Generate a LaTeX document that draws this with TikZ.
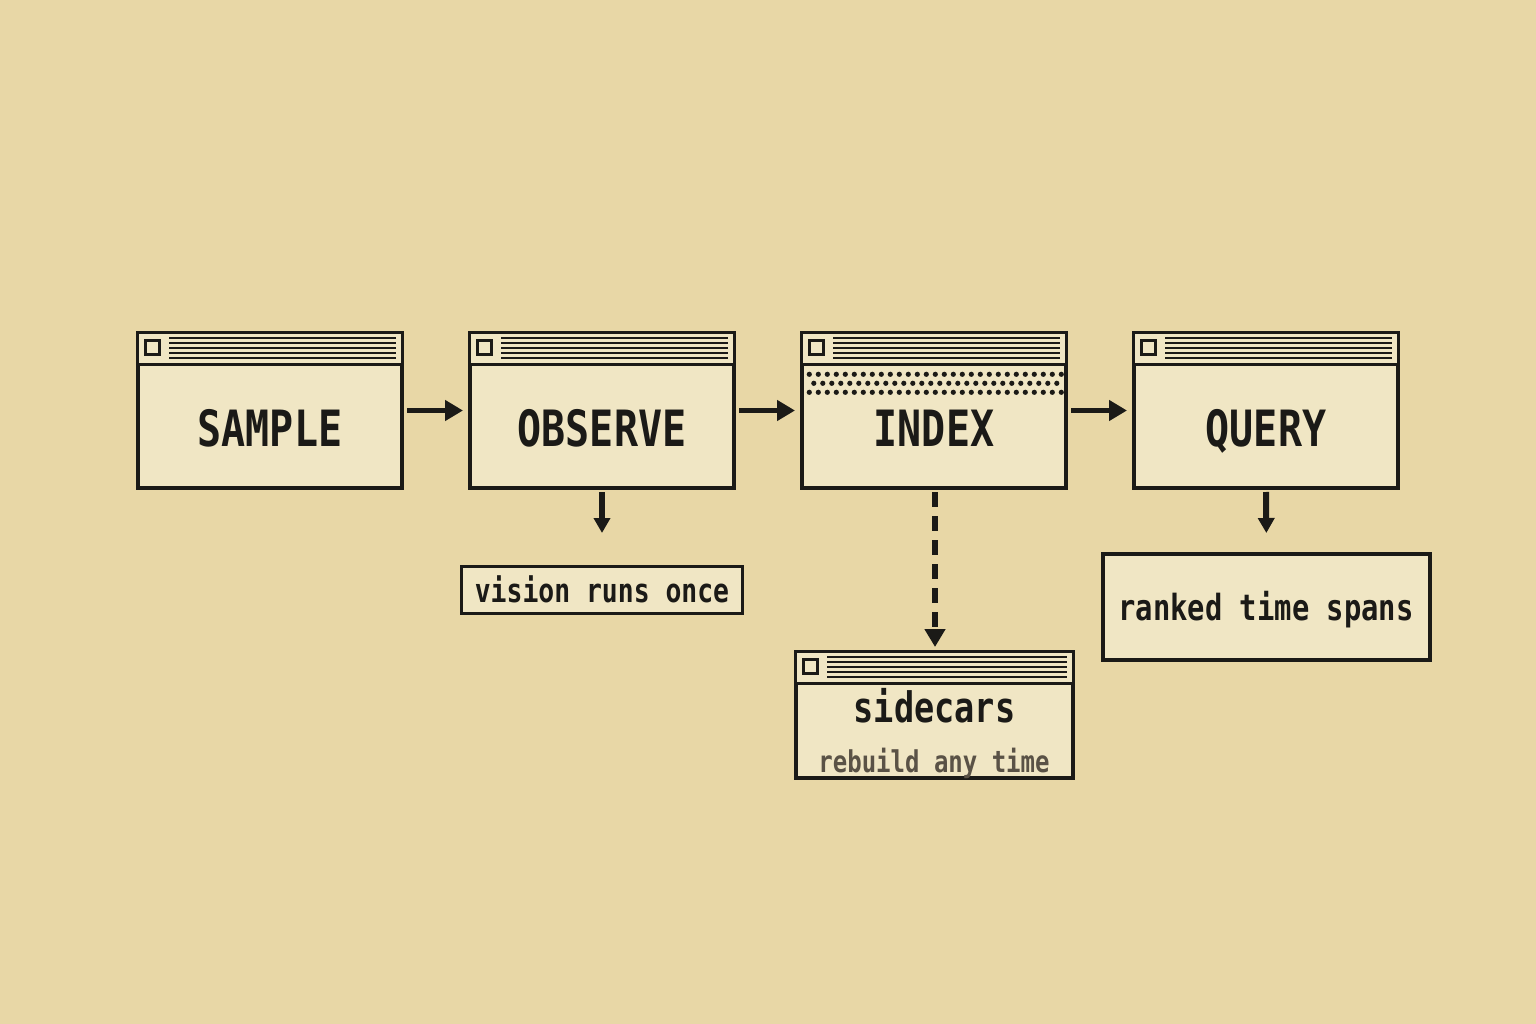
\documentclass[tikz,border=0pt]{standalone}
\usepackage{fontspec}
\usetikzlibrary{arrows.meta,calc}
\newfontfamily\pix[FakeStretch=0.8]{DejaVu Sans Mono}
\definecolor{bg}{HTML}{E8D7A6}
\definecolor{paper}{HTML}{F0E6C4}
\definecolor{ink}{HTML}{1B1A17}
\definecolor{inkgrey}{HTML}{5A5246}
\tikzset{
  winbox/.style={draw=ink,fill=paper,line width=4pt,inner sep=0pt,minimum width=264pt,minimum height=155pt},
  notebox/.style={draw=ink,fill=paper,line width=3pt,inner sep=0pt},
  title/.style={font=\pix\bfseries\fontsize{50}{50}\selectfont,text=ink,anchor=base,inner sep=0pt},
  flow/.style={draw=ink,line width=5pt,-{Triangle[length=18pt,width=20pt]}},
  down/.style={draw=ink,line width=6pt,-{Triangle[length=15pt,width=16pt]}},
  dashdown/.style={draw=ink,line width=6pt,dash pattern=on 15pt off 9pt,-{Triangle[length=18pt,width=20pt]}}
}
\newcommand{\titlebar}[1]{%
  \fill[paper] (#1.north west) ++(3pt,-3pt) rectangle ($(#1.north east)+(-3pt,-33pt)$);
  \draw[ink,line width=3pt] ($(#1.north west)+(0,-33pt)$) -- ($(#1.north east)+(0,-33pt)$);
  \draw[ink,line width=3pt] ($(#1.north west)+(9.5pt,-9.5pt)$) rectangle ($(#1.north west)+(23.5pt,-23.5pt)$);
  \foreach \k in {0,...,4}{
    \draw[ink,line width=2pt] ($(#1.north west)+(33pt,-6.7pt-5*\k pt)$) -- ($(#1.north east)+(-8pt,-6.7pt-5*\k pt)$);
  }%
}
\begin{document}
\begin{tikzpicture}[x=1pt,y=-1pt]
\useasboundingbox (0,0) rectangle (1536,1024);
\fill[bg] (0,0) rectangle (1536,1024);

% main windows
\node[winbox] (sample) at (270,410.5) {};
\node[winbox] (observe) at (602,410.5) {};
\node[winbox] (index) at (934,410.5) {};
\node[winbox] (query) at (1266,410.5) {};
\titlebar{sample}
\titlebar{observe}
\titlebar{index}
\titlebar{query}

% dotted band in INDEX
\foreach \k in {0,...,28}{
  \fill[ink] (809.3+9*\k,374.3) circle (2.6);
  \fill[ink] (809.3+9*\k,392.3) circle (2.6);
}
\foreach \k in {0,...,27}{
  \fill[ink] (813.8+9*\k,383.3) circle (2.6);
}

\node[title] (sampleT) at (270,446) {SAMPLE};
\node[title] (observeT) at (602,446) {OBSERVE};
\node[title] (indexT) at (934,446) {INDEX};
\node[title] (queryT) at (1266,446) {QUERY};

% notes
\node[notebox,minimum width=281pt,minimum height=47pt] (vision) at (602,590) {};
\node[font=\pix\bfseries\fontsize{33}{33}\selectfont,text=ink,anchor=base,inner sep=0pt] (visionT) at (602,602) {vision runs once};

\node[winbox,minimum width=327pt,minimum height=106pt] (ranked) at (1266.5,607) {};
\node[font=\pix\bfseries\fontsize{36}{36}\selectfont,text=ink,anchor=base,inner sep=0pt] (rankedT) at (1266,620) {ranked time spans};

\node[winbox,minimum width=277pt,minimum height=126pt] (sidecars) at (934.5,715) {};
\titlebar{sidecars}
\node[font=\pix\bfseries\fontsize{42}{42}\selectfont,text=ink,anchor=base,inner sep=0pt] (sidecarsT) at (934.5,722) {sidecars};
\node[font=\pix\bfseries\fontsize{30}{30}\selectfont,text=inkgrey,anchor=base,inner sep=0pt] (rebuildT) at (934,772) {rebuild any time};

% connectors
\draw[flow,shorten <=3pt,shorten >=5pt] (sample.east) -- (observe.west);
\draw[flow,shorten <=3pt,shorten >=5pt] (observe.east) -- (index.west);
\draw[flow,shorten <=3pt,shorten >=5pt] (index.east) -- (query.west);
\draw[down,shorten <=2pt,shorten >=32pt] (observe.south) -- (vision.north);
\draw[down,shorten <=2pt,shorten >=19pt] (query.south) -- (ranked.north);
\draw[dashdown,shorten <=2pt,shorten >=3pt] ($(index.south)+(1,0)$) -- ($(sidecars.north)+(0.5,0)$);
\end{tikzpicture}
\end{document}
